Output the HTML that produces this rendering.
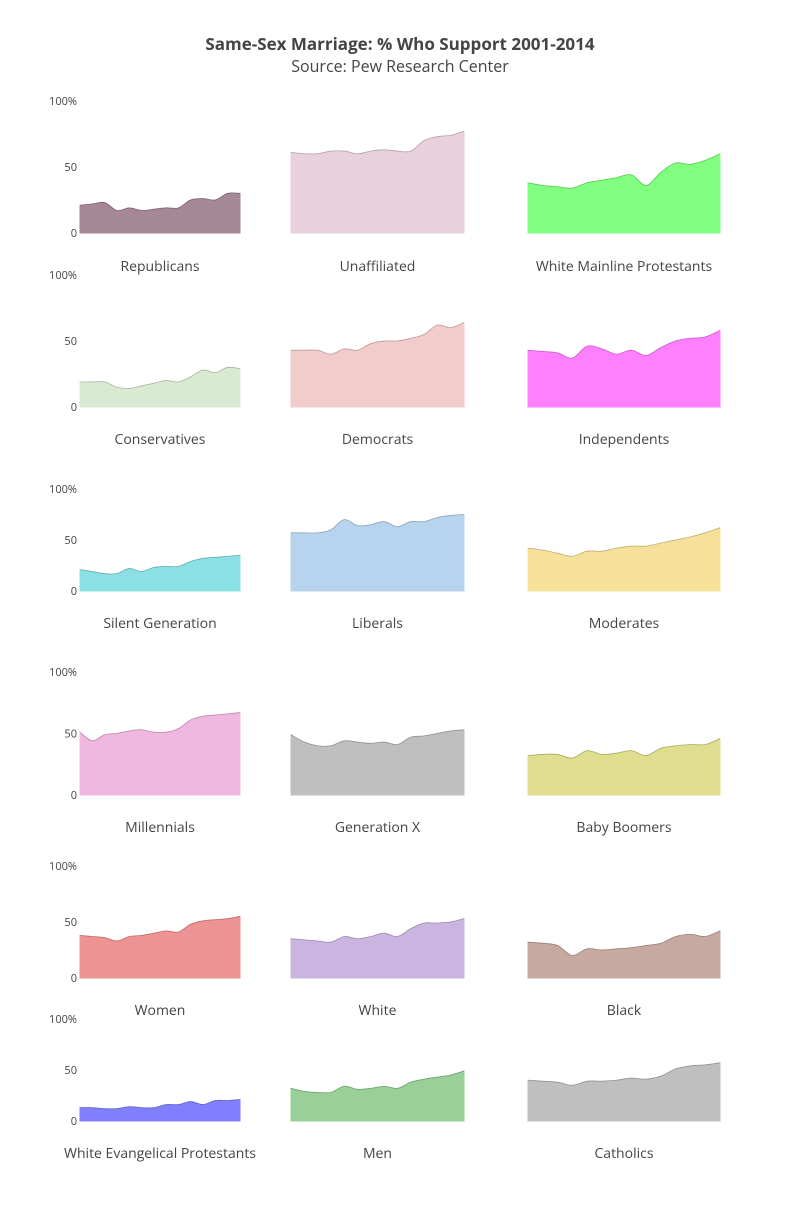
<!DOCTYPE html>
<html><head><meta charset="utf-8"><style>
body{margin:0;background:#fff;}
svg text{font-family:"Open Sans","Liberation Sans",sans-serif;fill:#444;}
</style></head><body>
<svg id="s" width="800" height="1200" xmlns="http://www.w3.org/2000/svg">
<rect width="800" height="1200" fill="#fff"/>
<text x="400" y="50" text-anchor="middle" font-size="17" font-weight="bold">Same-Sex Marriage: % Who Support 2001-2014</text>
<text x="400" y="72" text-anchor="middle" font-size="16">Source: Pew Research Center</text>
</svg>
<script>
var cols=[[80,240],[291,464],[528,720]];
var rows=[[101,233,266],[275,407,439],[489,591,623],[672,795,827],[866,978,1010],[1019,1121,1153]];
var S=[
["Republicans","#a68796",[21,22,23,17,19,17,18,19,19,25,26,25,30,30]],
["Unaffiliated","#e8d1dd",[61,60,60,62,62,60,62,63,62,62,70,73,74,77]],
["White Mainline Protestants","#80ff80",[38,36,35,34,38,40,42,44,36,46,53,52,55,60]],
["Conservatives","#d9ead3",[19,19,19,15,14,16,18,20,19,23,28,26,30,29]],
["Democrats","#f2cbcb",[43,43,43,40,44,43,48,50,50,52,55,62,60,64]],
["Independents","#ff80ff",[43,42,41,37,46,44,40,43,39,45,50,52,53,58]],
["Silent Generation","#8be0e6",[21,19,17,17,22,19,23,24,24,29,32,33,34,35]],
["Liberals","#b7d4ee",[57,57,57,60,70,64,65,68,63,68,68,72,74,75]],
["Moderates","#f7e19a",[42,40,37,34,39,39,42,44,44,47,50,53,57,62]],
["Millennials","#f0b8e0",[51,44,49,50,52,53,51,51,54,61,64,65,66,67]],
["Generation X","#bfbfbf",[49,43,40,40,44,43,42,43,41,47,48,50,52,53]],
["Baby Boomers","#dede8e",[32,33,33,30,36,33,34,36,32,38,40,41,41,46]],
["Women","#ee9393",[38,37,36,33,37,38,40,42,41,48,51,52,53,55]],
["White","#cab4e0",[35,34,33,32,37,35,37,40,37,44,49,49,50,53]],
["Black","#c6aaa2",[32,31,29,20,26,25,26,27,29,31,37,39,37,42]],
["White Evangelical Protestants","#8080ff",[13,13,12,12,14,13,13,16,16,19,16,20,20,21]],
["Men","#98d098",[32,29,28,28,34,31,32,34,32,38,41,43,45,49]],
["Catholics","#bfbfbf",[40,39,38,35,39,39,40,42,41,44,51,54,55,57]]];
var svg=document.getElementById('s'),h='';
S.forEach(function(s,i){
 var r=rows[Math.floor(i/3)],c=cols[i%3],v=s[2],n=v.length;
 var P=v.map(function(y,k){return [c[0]+(c[1]-c[0])*k/(n-1), r[1]-(r[1]-r[0])*y/100];});
 var d='M'+P[0][0]+','+P[0][1];
 for(var k=0;k<n-1;k++){var p0=P[Math.max(k-1,0)],p1=P[k],p2=P[k+1],p3=P[Math.min(k+2,n-1)];
  d+=' C'+(p1[0]+(p2[0]-p0[0])/6)+','+(p1[1]+(p2[1]-p0[1])/6)+' '+(p2[0]-(p3[0]-p1[0])/6)+','+(p2[1]-(p3[1]-p1[1])/6)+' '+p2[0]+','+p2[1];}
 h+='<path d="'+d+' L'+c[1]+','+r[1]+' L'+c[0]+','+r[1]+' Z" fill="'+s[1]+'" stroke="'+s[1]+'"/>';
 h+='<path d="'+d+'" fill="none" stroke="rgba(0,0,0,0.25)" stroke-width="0.7"/>';
 h+='<text x="'+(c[0]+c[1])/2+'" y="'+(r[2]+5)+'" text-anchor="middle" font-size="14">'+s[0]+'</text>';
 if(i%3==0){var m=(r[0]+r[1])/2;
  h+='<text x="77" y="'+(r[0]+4)+'" text-anchor="end" font-size="11">100%</text>';
  h+='<text x="77" y="'+(m+4)+'" text-anchor="end" font-size="11">50</text>';
  h+='<text x="77" y="'+(r[1]+4)+'" text-anchor="end" font-size="11">0</text>';}
});
svg.insertAdjacentHTML('beforeend',h);
</script>
</body></html>
